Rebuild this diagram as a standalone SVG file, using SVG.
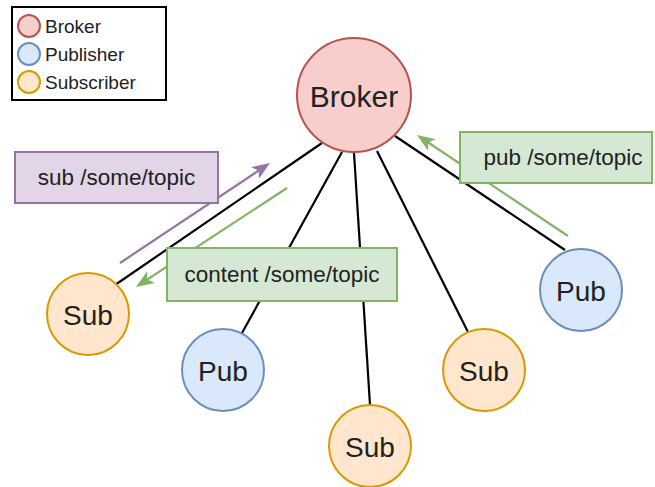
<svg xmlns="http://www.w3.org/2000/svg" width="655" height="487" viewBox="0 0 655 487">
<defs>
<style>
text{font-family:"Liberation Sans",Arial,sans-serif;fill:#222;dominant-baseline:central;}
.c{text-anchor:middle;}
.broker{fill:#f8cecc;stroke:#b85450;stroke-width:2;}
.pub{fill:#dae8fc;stroke:#6c8ebf;stroke-width:2;}
.sub{fill:#ffe6cc;stroke:#d79b00;stroke-width:2;}
.gbox{fill:#d5e8d4;stroke:#82b366;stroke-width:2;}
.pbox{fill:#e1d5e7;stroke:#9673a6;stroke-width:2;}
.link{stroke:#000;stroke-width:2.2;fill:none;}
.ga{stroke:#82b366;stroke-width:2.2;fill:none;marker-end:url(#ah-g);}
.pa{stroke:#9673a6;stroke-width:2.2;fill:none;marker-end:url(#ah-p);}
.node{font-size:28px;}
.lbl{font-size:22.5px;}
.leg{font-size:19px;}
</style>
<marker id="ah-g" markerUnits="userSpaceOnUse" markerWidth="18" markerHeight="14" refX="9" refY="7" orient="auto"><path d="M0,0 L18,7 L0,14 L4.5,7 z" fill="#82b366"/></marker>
<marker id="ah-p" markerUnits="userSpaceOnUse" markerWidth="18" markerHeight="14" refX="9" refY="7" orient="auto"><path d="M0,0 L18,7 L0,14 L4.5,7 z" fill="#9673a6"/></marker>
</defs>
<rect width="655" height="487" fill="#fff"/>
<g id="connectors">
<line class="link" x1="322" y1="143" x2="115" y2="285"/>
<line class="link" x1="342" y1="152" x2="242" y2="333"/>
<line class="link" x1="354" y1="153" x2="370" y2="405"/>
<line class="link" x1="377" y1="151" x2="468" y2="332"/>
<line class="link" x1="395" y1="136" x2="565" y2="250"/>
<line class="pa" x1="120" y1="263" x2="262.5" y2="168"/>
<line class="ga" x1="287" y1="188" x2="143.5" y2="282"/>
<line class="ga" x1="568" y1="236" x2="424.5" y2="140"/>
</g>
<g id="label-sub">
<rect class="pbox" x="15" y="152" width="203" height="51"/>
<text class="c lbl" x="116.5" y="177.5">sub /some/topic</text>
</g>
<g id="label-content">
<rect class="gbox" x="167" y="248" width="230" height="53"/>
<text class="c lbl" x="282" y="274.5">content /some/topic</text>
</g>
<g id="label-pub">
<rect class="gbox" x="460" y="132" width="192" height="51"/>
<text class="c lbl" x="563" y="157.5">pub /some/topic</text>
</g>
<g id="broker">
<circle class="broker" cx="354" cy="95" r="57"/>
<text class="c" x="354" y="96" font-size="30">Broker</text>
</g>
<g id="sub-left">
<circle class="sub" cx="88" cy="314" r="41"/>
<text class="c node" x="88" y="315">Sub</text>
</g>
<g id="pub-left">
<circle class="pub" cx="223" cy="370" r="41"/>
<text class="c node" x="223" y="371">Pub</text>
</g>
<g id="sub-bottom">
<circle class="sub" cx="370" cy="446" r="41"/>
<text class="c node" x="370" y="447">Sub</text>
</g>
<g id="sub-right">
<circle class="sub" cx="484" cy="370" r="41"/>
<text class="c node" x="484" y="371">Sub</text>
</g>
<g id="pub-right">
<circle class="pub" cx="581" cy="290" r="41"/>
<text class="c node" x="581" y="291">Pub</text>
</g>
<g id="legend">
<rect x="12" y="7" width="154" height="93" fill="#fff" stroke="#000" stroke-width="2"/>
<circle class="broker" cx="29" cy="26" r="11"/>
<text class="leg" x="45" y="26">Broker</text>
<circle class="pub" cx="29" cy="54" r="11"/>
<text class="leg" x="45" y="54">Publisher</text>
<circle class="sub" cx="29" cy="82" r="11"/>
<text class="leg" x="45" y="82">Subscriber</text>
</g>
</svg>
